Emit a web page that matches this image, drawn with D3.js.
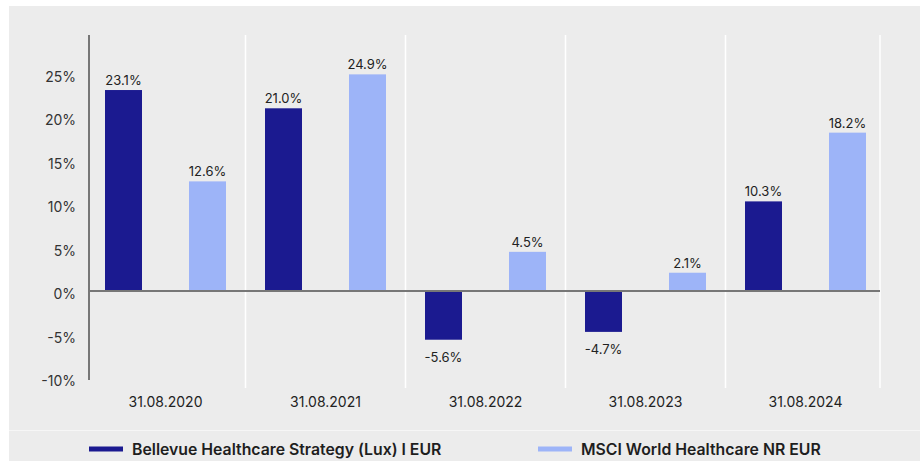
<!DOCTYPE html>
<html>
<head>
<meta charset="utf-8">
<script src="https://cdn.jsdelivr.net/npm/d3@7"></script>
<style>
  body { margin: 0; background: #fff; }
  svg { display: block; font-family: Inter, 'Noto Sans', sans-serif; }
</style>
</head>
<body>
<div class="chart"></div>
<script>
// data
var dates     = ['31.08.2020', '31.08.2021', '31.08.2022', '31.08.2023', '31.08.2024'];
var fund      = [23.1, 21.0, -5.6, -4.7, 10.3];
var benchmark = [12.6, 24.9, 4.5, 2.1, 18.2];
var seriesNames = ['Bellevue Healthcare Strategy (Lux) I EUR', 'MSCI World Healthcare NR EUR'];
var yTicks    = [-10, -5, 0, 5, 10, 15, 20, 25];

var colors = ['#1b1a90', '#9db4f8'];

var W = 920, H = 461;
var svg = d3.select('.chart')
    .append('svg')
    .attr('width', W)
    .attr('height', H);

// background panels
svg.append('rect').attr('x', 9).attr('y', 6).attr('width', W - 9).attr('height', H - 6).attr('fill', '#ececec');
svg.append('line').attr('x1', 9).attr('x2', W).attr('y1', 430.5).attr('y2', 430.5)
    .attr('stroke', '#f6f6f6').attr('stroke-width', 1);

var x = d3.scaleBand().domain(dates).range([85.5, 885.5]);
var y = d3.scaleLinear().domain([-10, 30]).range([378, 30]);

var axisX = 89, rightX = 880;

// vertical white gridlines between categories
var gridX = dates.slice(1).map(function(d){ return x(d); }).concat([rightX]);
svg.selectAll('.grid')
    .data(gridX)
    .enter()
    .append('line')
    .attr('class', 'grid')
    .attr('x1', function(d){ return d; })
    .attr('x2', function(d){ return d; })
    .attr('y1', 35)
    .attr('y2', 388)
    .attr('stroke', '#ffffff')
    .attr('stroke-width', 1.5);

// y axis (labels only, custom line)
var yAxis = d3.axisLeft(y)
    .tickValues(yTicks)
    .tickSize(0)
    .tickPadding(0)
    .tickFormat(function(d){ return d + '%'; });

var gy = svg.append('g')
    .attr('transform', 'translate(76,0)')
    .call(yAxis);
gy.select('.domain').remove();
gy.selectAll('text')
    .attr('font-family', 'Inter, sans-serif')
    .attr('font-size', 14)
    .attr('fill', '#333')
    .attr('dy', '0.55em');

svg.append('line')
    .attr('x1', axisX).attr('x2', axisX)
    .attr('y1', 35).attr('y2', 380)
    .attr('stroke', '#777').attr('stroke-width', 2);

// bars
var inner = d3.scaleBand().domain([0, 1]).range([19.5, 140.5]).paddingInner(0.5595).paddingOuter(0);

var rows = [];
dates.forEach(function(d, i){
    rows.push({ date: d, s: 0, v: fund[i] });
    rows.push({ date: d, s: 1, v: benchmark[i] });
});

svg.selectAll('.bar')
    .data(rows)
    .enter()
    .append('rect')
    .attr('class', 'bar')
    .attr('x', function(d){ return x(d.date) + inner(d.s); })
    .attr('width', inner.bandwidth())
    .attr('y', function(d){ return y(Math.max(0, d.v)); })
    .attr('height', function(d){ return Math.abs(y(d.v) - y(0)); })
    .attr('fill', function(d){ return colors[d.s]; });

// zero line
svg.append('line')
    .attr('x1', axisX).attr('x2', rightX)
    .attr('y1', y(0)).attr('y2', y(0))
    .attr('stroke', '#777').attr('stroke-width', 2);

// value labels
svg.selectAll('.val')
    .data(rows)
    .enter()
    .append('text')
    .attr('class', 'val')
    .attr('x', function(d){ return x(d.date) + inner(d.s) + inner.bandwidth() / 2; })
    .attr('y', function(d){ return d.v >= 0 ? y(d.v) - 5 : y(d.v) + 22; })
    .attr('text-anchor', 'middle')
    .attr('font-size', 13)
    .attr('fill', '#222')
    .text(function(d){ return d.v.toFixed(1) + '%'; });

// category labels
svg.selectAll('.cat')
    .data(dates)
    .enter()
    .append('text')
    .attr('class', 'cat')
    .attr('x', function(d){ return x(d) + x.bandwidth() / 2; })
    .attr('y', 407)
    .attr('text-anchor', 'middle')
    .attr('font-size', 14)
    .attr('fill', '#222')
    .text(function(d){ return d; });

// legend
var legendX = [89, 538];
var lg = svg.selectAll('.legend')
    .data(seriesNames)
    .enter()
    .append('g')
    .attr('class', 'legend')
    .attr('transform', function(d, i){ return 'translate(' + legendX[i] + ',449)'; });

lg.append('rect')
    .attr('x', 0).attr('y', -2.5)
    .attr('width', 34).attr('height', 5)
    .attr('fill', function(d, i){ return colors[i]; });

lg.append('text')
    .attr('x', 43)
    .attr('dy', '0.36em')
    .attr('font-size', 15.8)
    .attr('font-weight', 600)
    .attr('fill', '#1e1e1e')
    .text(function(d){ return d; });
</script>
</body>
</html>
